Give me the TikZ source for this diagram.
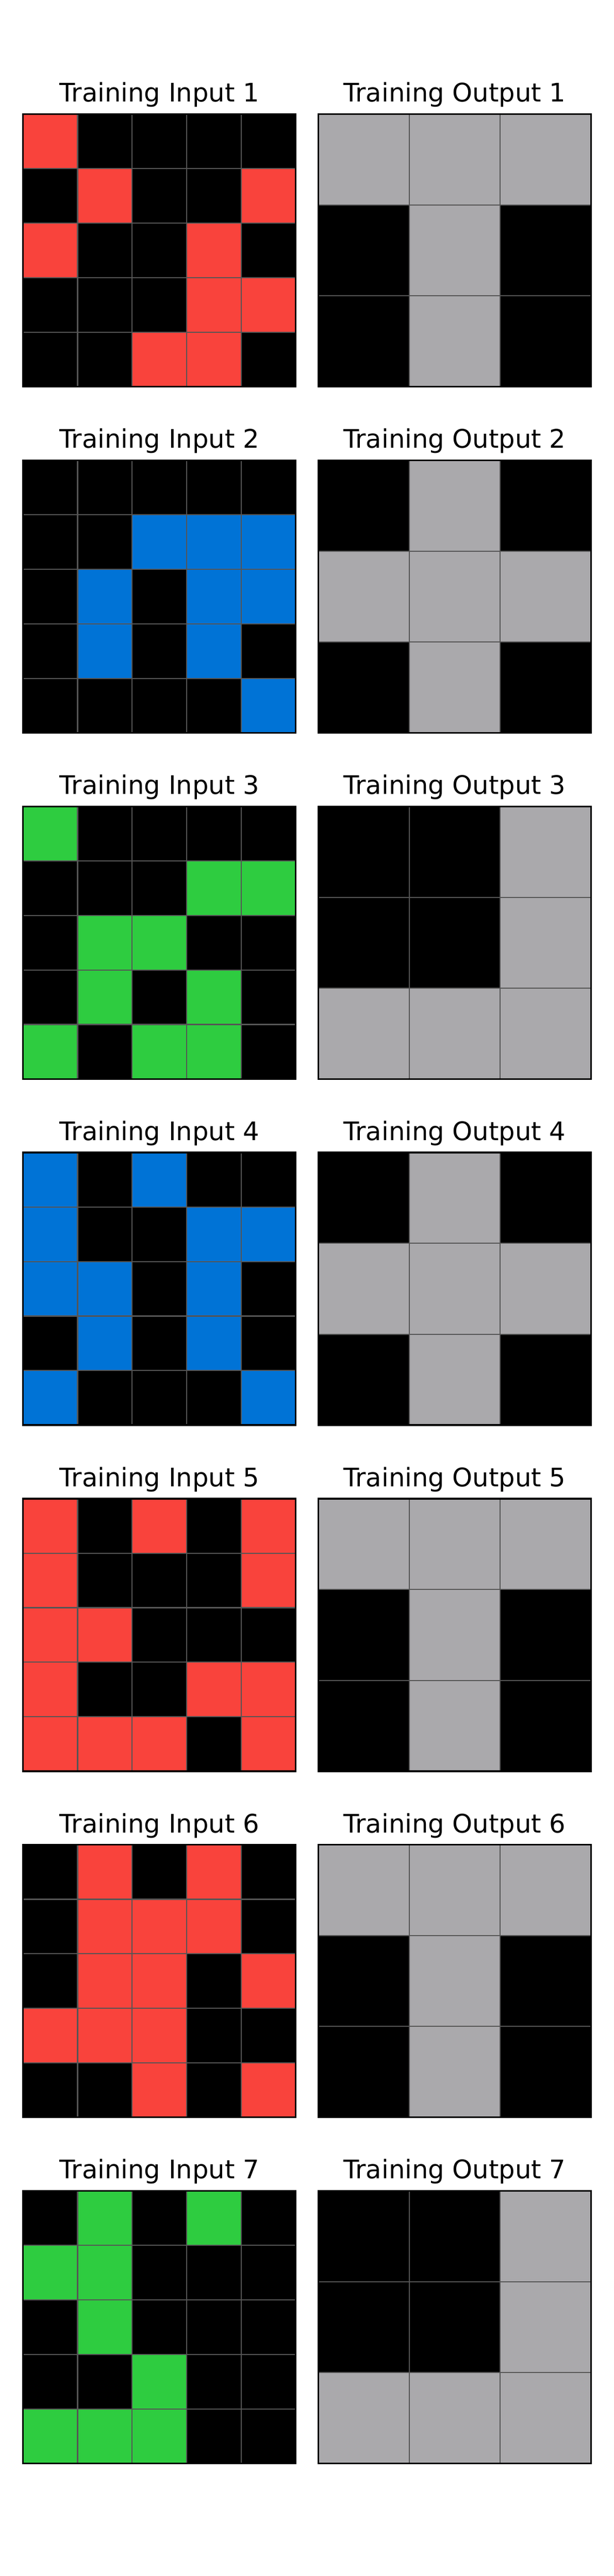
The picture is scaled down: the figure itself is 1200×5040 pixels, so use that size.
\documentclass[tikz,border=0pt]{standalone}
\usepackage{fontspec}
\setmainfont{DejaVu Sans}
\usepackage{tikz}
\definecolor{k}{RGB}{0,0,0}
\definecolor{r}{RGB}{249,67,60}
\definecolor{b}{RGB}{0,115,214}
\definecolor{g}{RGB}{46,204,64}
\definecolor{s}{RGB}{170,169,172}
\definecolor{gridgray}{RGB}{85,85,85}
\tikzset{cell/.style={draw=gridgray, line width=0.5pt}}
\tikzset{frame/.style={draw=black, line width=0.8pt}}
\tikzset{paneltitle/.style={anchor=base, inner sep=0pt, font=\fontsize{12}{14}\selectfont}}
% cells of one grid: left, top, cell size, rows
\newcommand{\arcgrid}[4]{
  \foreach \row [count=\j from 0] in {#4} {
    \foreach \c [count=\i from 0] in \row
      \filldraw[cell, fill=\c] ({#1+\i*#3}, {#2+\j*#3}) rectangle ++(#3, #3);
  }}

\begin{document}
\begin{tikzpicture}[x=0.24pt, y=-0.24pt]
        \fill[white] (0,0) rectangle (1200,5040);
        \useasboundingbox (0,0) rectangle (1200,5040);

        \node (in1) at (311.7,199.5) [paneltitle] {Training Input 1};
        \node (out1) at (889,199.5) [paneltitle] {Training Output 1};
        \arcgrid{45}{223.3}{106.67}{{r,k,k,k,k},{k,r,k,k,r},{r,k,k,r,k},{k,k,k,r,r},{k,k,r,r,k}}
        \arcgrid{622.3}{223.3}{177.78}{{s,s,s},{k,s,k},{k,s,k}}
        \draw[frame] (45,223.3) rectangle ++(533.3,533.3);
        \draw[frame] (622.3,223.3) rectangle ++(533.3,533.3);

        \node (in2) at (311.7,876.7) [paneltitle] {Training Input 2};
        \node (out2) at (889,876.7) [paneltitle] {Training Output 2};
        \arcgrid{45}{900.5}{106.67}{{k,k,k,k,k},{k,k,b,b,b},{k,b,k,b,b},{k,b,k,b,k},{k,k,k,k,b}}
        \arcgrid{622.3}{900.5}{177.78}{{k,s,k},{s,s,s},{k,s,k}}
        \draw[frame] (45,900.5) rectangle ++(533.3,533.3);
        \draw[frame] (622.3,900.5) rectangle ++(533.3,533.3);

        \node (in3) at (311.7,1553.9) [paneltitle] {Training Input 3};
        \node (out3) at (889,1553.9) [paneltitle] {Training Output 3};
        \arcgrid{45}{1577.7}{106.67}{{g,k,k,k,k},{k,k,k,g,g},{k,g,g,k,k},{k,g,k,g,k},{g,k,g,g,k}}
        \arcgrid{622.3}{1577.7}{177.78}{{k,k,s},{k,k,s},{s,s,s}}
        \draw[frame] (45,1577.7) rectangle ++(533.3,533.3);
        \draw[frame] (622.3,1577.7) rectangle ++(533.3,533.3);

        \node (in4) at (311.7,2231.1) [paneltitle] {Training Input 4};
        \node (out4) at (889,2231.1) [paneltitle] {Training Output 4};
        \arcgrid{45}{2254.9}{106.67}{{b,k,b,k,k},{b,k,k,b,b},{b,b,k,b,k},{k,b,k,b,k},{b,k,k,k,b}}
        \arcgrid{622.3}{2254.9}{177.78}{{k,s,k},{s,s,s},{k,s,k}}
        \draw[frame] (45,2254.9) rectangle ++(533.3,533.3);
        \draw[frame] (622.3,2254.9) rectangle ++(533.3,533.3);

        \node (in5) at (311.7,2908.3) [paneltitle] {Training Input 5};
        \node (out5) at (889,2908.3) [paneltitle] {Training Output 5};
        \arcgrid{45}{2932.1}{106.67}{{r,k,r,k,r},{r,k,k,k,r},{r,r,k,k,k},{r,k,k,r,r},{r,r,r,k,r}}
        \arcgrid{622.3}{2932.1}{177.78}{{s,s,s},{k,s,k},{k,s,k}}
        \draw[frame] (45,2932.1) rectangle ++(533.3,533.3);
        \draw[frame] (622.3,2932.1) rectangle ++(533.3,533.3);

        \node (in6) at (311.7,3585.5) [paneltitle] {Training Input 6};
        \node (out6) at (889,3585.5) [paneltitle] {Training Output 6};
        \arcgrid{45}{3609.3}{106.67}{{k,r,k,r,k},{k,r,r,r,k},{k,r,r,k,r},{r,r,r,k,k},{k,k,r,k,r}}
        \arcgrid{622.3}{3609.3}{177.78}{{s,s,s},{k,s,k},{k,s,k}}
        \draw[frame] (45,3609.3) rectangle ++(533.3,533.3);
        \draw[frame] (622.3,3609.3) rectangle ++(533.3,533.3);

        \node (in7) at (311.7,4262.7) [paneltitle] {Training Input 7};
        \node (out7) at (889,4262.7) [paneltitle] {Training Output 7};
        \arcgrid{45}{4286.5}{106.67}{{k,g,k,g,k},{g,g,k,k,k},{k,g,k,k,k},{k,k,g,k,k},{g,g,g,k,k}}
        \arcgrid{622.3}{4286.5}{177.78}{{k,k,s},{k,k,s},{s,s,s}}
        \draw[frame] (45,4286.5) rectangle ++(533.3,533.3);
        \draw[frame] (622.3,4286.5) rectangle ++(533.3,533.3);

\end{tikzpicture}
\end{document}
